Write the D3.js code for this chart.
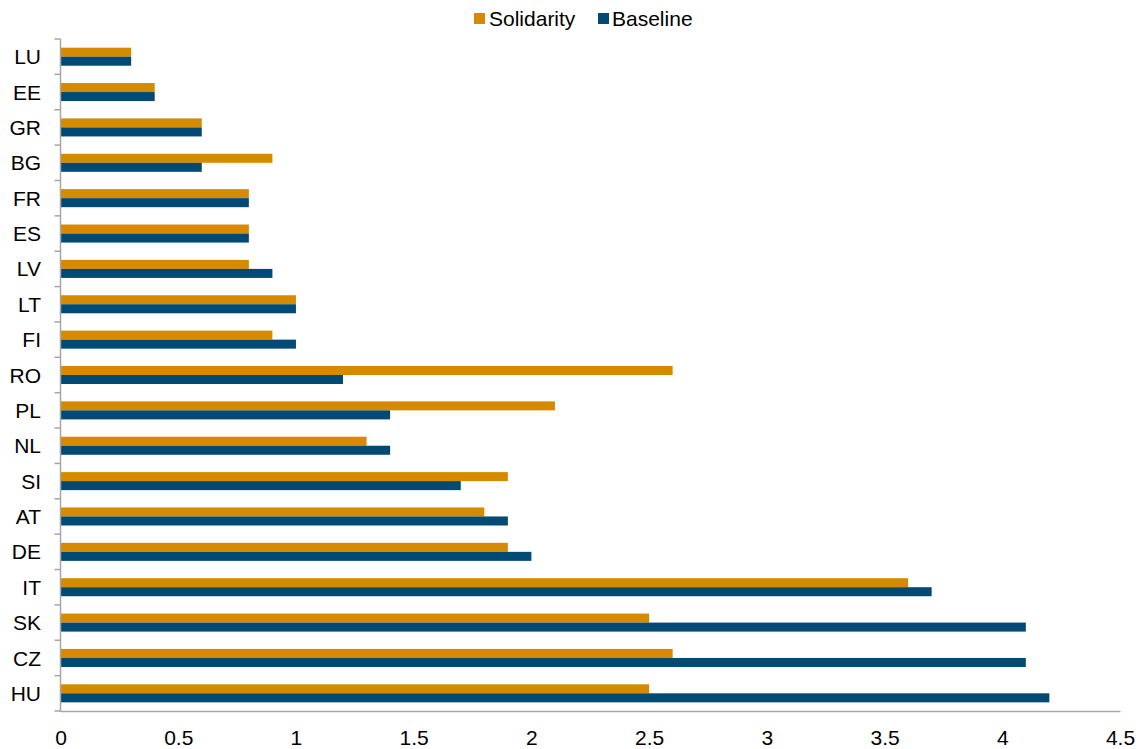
<!DOCTYPE html>
<html>
<head>
<meta charset="utf-8">
<script src="https://cdn.jsdelivr.net/npm/d3@7"></script>
<style>
  html, body { margin: 0; padding: 0; background: #fff; }
  svg { display: block; font-family: "Liberation Sans", Arial, sans-serif; }
</style>
</head>
<body>
<svg id="chart" width="1143" height="749"></svg>
<script>
const categories = ["LU","EE","GR","BG","FR","ES","LV","LT","FI","RO","PL","NL","SI","AT","DE","IT","SK","CZ","HU"];
const solidarity = [0.3,0.4,0.6,0.9,0.8,0.8,0.8,1.0,0.9,2.6,2.1,1.3,1.9,1.8,1.9,3.6,2.5,2.6,2.5];
const baseline   = [0.3,0.4,0.6,0.6,0.8,0.8,0.9,1.0,1.0,1.2,1.4,1.4,1.7,1.9,2.0,3.7,4.1,4.1,4.2];
const seriesNames = ["Solidarity","Baseline"];
const seriesColors = ["#D68A00","#004A73"];
const xTicks = [0,0.5,1,1.5,2,2.5,3,3.5,4,4.5];
const xTickLabels = ["0","0.5","1","1.5","2","2.5","3","3.5","4","4.5"];

(function () {
const svg = d3.select("#chart");
const mLeft = 60.5, mRight = 1120, mTop = 39, mBottom = 711;
const axisColor = "#a6a6a6";
const fs = 21;

const x = d3.scaleLinear().domain([0, 4.5]).range([mLeft, mRight]);
const y = d3.scaleBand().domain(categories).range([mTop, mBottom]).paddingInner(0.49).paddingOuter(0.245);
const y1 = d3.scaleBand().domain(seriesNames).range([0, y.bandwidth()]);

const rows = categories.map((c, i) => ({cat: c, vals: [solidarity[i], baseline[i]]}));

const g = svg.append("g");
const rowG = g.selectAll("g.row").data(rows).join("g")
  .attr("class", "row")
  .attr("transform", d => `translate(0,${y(d.cat)})`);
rowG.selectAll("rect").data(d => d.vals.map((v, k) => ({v, k}))).join("rect")
  .attr("x", x(0))
  .attr("y", d => y1(seriesNames[d.k]))
  .attr("width", d => x(d.v) - x(0))
  .attr("height", y1.bandwidth())
  .attr("fill", d => seriesColors[d.k]);

// Y axis line and boundary ticks
const step = y.step();
const bounds = d3.range(categories.length + 1).map(i => mTop + i * step);
g.append("line").attr("x1", mLeft).attr("x2", mLeft).attr("y1", mTop).attr("y2", mBottom + 1)
  .attr("stroke", axisColor).attr("stroke-width", 1.5);
g.selectAll("line.ytick").data(bounds).join("line").attr("class", "ytick")
  .attr("x1", mLeft - 6).attr("x2", mLeft).attr("y1", d => d).attr("y2", d => d)
  .attr("stroke", axisColor).attr("stroke-width", 1.5);

// Category labels
g.selectAll("text.cat").data(categories).join("text").attr("class", "cat")
  .attr("x", 41).attr("y", d => y(d) + y.bandwidth() / 2)
  .attr("dy", "0.36em")
  .attr("text-anchor", "end")
  .attr("font-size", fs).attr("fill", "#000")
  .text(d => d);

// X axis
const xAxis = d3.axisBottom(x).tickValues(xTicks).tickSize(0).tickPadding(19.5)
  .tickFormat((d, i) => xTickLabels[i]);
const xg = g.append("g").attr("transform", `translate(0,${mBottom})`).call(xAxis);
xg.select(".domain").attr("stroke", axisColor).attr("stroke-width", 1.5);
xg.selectAll("text").attr("font-size", fs).attr("fill", "#000")
  .attr("font-family", "Liberation Sans, Arial, sans-serif");

// Legend
const legendItems = [
  {name: seriesNames[0], color: seriesColors[0], sx: 474, tx: 489},
  {name: seriesNames[1], color: seriesColors[1], sx: 598, tx: 612}
];
const lg = svg.append("g");
lg.selectAll("rect").data(legendItems).join("rect")
  .attr("x", d => d.sx).attr("y", 13).attr("width", 11).attr("height", 11)
  .attr("fill", d => d.color);
lg.selectAll("text").data(legendItems).join("text")
  .attr("x", d => d.tx).attr("y", 18.5).attr("dy", "0.36em")
  .attr("font-size", fs).attr("fill", "#000")
  .text(d => d.name);
})();
</script>
</body>
</html>
